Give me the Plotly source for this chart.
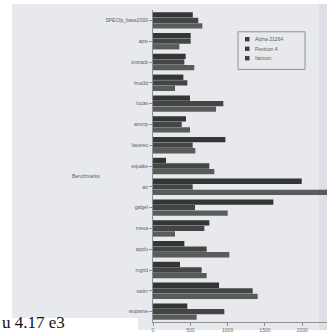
import plotly.graph_objects as go

# SPECfp2000 results per benchmark, top to bottom as drawn
benchmarks = ["SPECfp_base2000", "apsi", "sixtrack", "fma3d", "lucas", "ammp",
              "facerec", "equake", "art", "galgel", "mesa", "applu", "mgrid",
              "swim", "wupwise"]
series_names = ["Alpha 21264", "Pentium 4", "Itanium"]
alpha_21264 = [533, 505, 438, 407, 496, 442, 970, 174, 1993, 1613, 755, 420, 362, 885, 460]
pentium_4 = [607, 505, 420, 460, 943, 385, 532, 755, 532, 563, 688, 719, 652, 1336, 956]
itanium = [661, 353, 553, 295, 845, 496, 567, 822, 2400, 1001, 295, 1023, 719, 1403, 585]
x_ticks = [0, 500, 1000, 1500, 2000]

series_values = [alpha_21264, pentium_4, itanium]
bar_colors = ["#333634", "#434644", "#595c5a"]

W, H = 327, 333
ML, MR, MT, MB = 153, 0, 10, 8
PW, PH = W - ML - MR, H - MT - MB


def px(x):
    return (x - ML) / PW


def py(y):
    return 1 - (y - MT) / PH


fig = go.Figure()
for name, vals, col in zip(series_names, series_values, bar_colors):
    fig.add_trace(go.Bar(
        y=benchmarks, x=vals, name=name, orientation="h",
        marker=dict(color=col, line=dict(width=0)),
        showlegend=False,
    ))

paper = "#e7e9ed"
shapes = [
    # scanned page area
    dict(type="rect", xref="paper", yref="paper", layer="below",
         x0=px(12), x1=px(W), y0=py(4), y1=py(321),
         fillcolor=paper, line=dict(width=0)),
    dict(type="rect", xref="paper", yref="paper", layer="below",
         x0=px(138), x1=px(W), y0=py(321), y1=py(H),
         fillcolor=paper, line=dict(width=0)),
    dict(type="rect", xref="paper", yref="paper", layer="below",
         x0=px(319), x1=px(W), y0=py(4), y1=py(H),
         fillcolor="#dcdfe3", line=dict(width=0)),
    # legend frame
    dict(type="rect", xref="paper", yref="paper",
         x0=px(238), x1=px(305), y0=py(32), y1=py(70),
         fillcolor="rgba(0,0,0,0)", line=dict(color="#8d9094", width=1)),
]

annotations = []
for i, (name, col) in enumerate(zip(series_names, bar_colors)):
    cy = 39.5 + i * 9.6
    shapes.append(dict(type="rect", xref="paper", yref="paper",
                       x0=px(245), x1=px(249.5), y0=py(cy - 2.2), y1=py(cy + 2.2),
                       fillcolor="#3a3d3b", line=dict(width=0)))
    annotations.append(dict(x=px(253), y=py(cy), xref="paper", yref="paper",
                            text=name, showarrow=False, xanchor="left",
                            yanchor="middle",
                            font=dict(size=5, color="#5a5d60",
                                      family="Liberation Sans")))

annotations.append(dict(x=px(86), y=py(178), xref="paper", yref="paper",
                        text="Benchmarks", showarrow=False, xanchor="center",
                        yanchor="middle",
                        font=dict(size=5, color="#5a5d60",
                                  family="Liberation Sans")))
annotations.append(dict(x=px(0), y=py(325), xref="paper", yref="paper",
                        text="u 4.17 e3", showarrow=False, xanchor="left",
                        yanchor="middle",
                        font=dict(size=17, color="#111111",
                                  family="Liberation Serif")))

fig.update_layout(
    width=W, height=H,
    margin=dict(l=ML, r=MR, t=MT, b=MB, pad=0),
    paper_bgcolor="white", plot_bgcolor="rgba(0,0,0,0)",
    barmode="group", bargap=0.2, bargroupgap=0.04,
    shapes=shapes, annotations=annotations,
    xaxis=dict(range=[0, 2332], tickvals=x_ticks, showgrid=False,
               zeroline=False, showline=True, linecolor="#8d9094",
               linewidth=1, ticks="outside", ticklen=3, tickcolor="#8d9094",
               tickfont=dict(size=5, color="#6a6d70",
                             family="Liberation Sans")),
    yaxis=dict(categoryorder="array", categoryarray=benchmarks,
               autorange="reversed", showgrid=False, zeroline=False,
               showline=True, linecolor="#8d9094", linewidth=1,
               ticks="outside", ticklen=3, tickcolor="#8d9094",
               tickfont=dict(size=5, color="#5a5d60",
                             family="Liberation Sans")),
)

fig.write_html("out.html")
